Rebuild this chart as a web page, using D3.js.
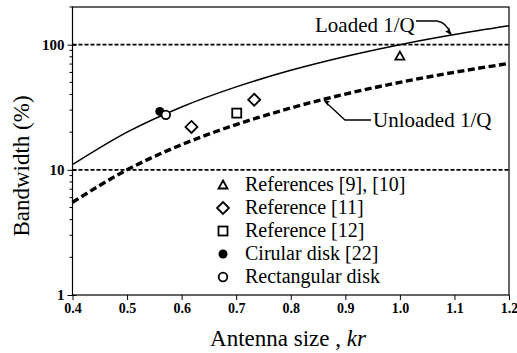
<!DOCTYPE html>
<html>
<head>
<meta charset="utf-8">
<script src="https://cdn.jsdelivr.net/npm/d3@7"></script>
</head>
<body style="margin:0">
<script>
// curve samples (antenna size kr -> bandwidth %)
const krSamples = [0.4, 0.5, 0.6, 0.7, 0.8, 0.9, 1.0, 1.1, 1.2];
const loadedBW = [11.0, 20.0, 31.8, 46.0, 62.4, 80.5, 100, 120.5, 141.6];
const unloadedBW = [5.5, 10.0, 15.9, 23.0, 31.2, 40.3, 50.0, 60.2, 70.8];

// measured points
const refs910 = [[1.0, 81]];
const ref11 = [[0.618, 22.0], [0.733, 36.3]];
const ref12 = [[0.701, 28.4]];
const circDisk = [[0.56, 29.3]];
const rectDisk = [[0.571, 27.5]];

const xTicks = [0.4, 0.5, 0.6, 0.7, 0.8, 0.9, 1.0, 1.1, 1.2];
const yTicks = [1, 10, 100];
const refLines = [10, 100];

const legendItems = ['References [9], [10]', 'Reference [11]', 'Reference [12]', 'Cirular disk [22]', 'Rectangular disk'];
const legendShapes = ['triangle', 'diamond', 'square', 'filled', 'open'];

const FONT = 'Liberation Serif';

const width = 517, height = 353;
const margin = { top: 7, right: 8, bottom: 58, left: 72.5 };
const plotW = width - margin.left - margin.right;
const plotH = height - margin.top - margin.bottom;

const svg = d3.select('body').append('svg')
  .attr('width', width)
  .attr('height', height)
  .attr('font-family', FONT)
  .style('display', 'block');

const chart = svg.append('g')
  .attr('transform', `translate(${margin.left},${margin.top})`);

const x = d3.scaleLinear().domain([0.4, 1.2]).range([0, plotW]);
const y = d3.scaleLog().domain([1, 200]).range([plotH, 0]);

// axes
const xAxis = d3.axisBottom(x).tickValues(xTicks).tickFormat(d3.format('.1f')).tickSize(5).tickPadding(3);
const gx = chart.append('g').attr('transform', `translate(0,${plotH})`).call(xAxis);
gx.attr('font-family', FONT);
gx.select('.domain').remove();
gx.selectAll('line').attr('stroke', '#000');
gx.selectAll('text').attr('font-family', FONT).attr('font-size', 14).attr('font-weight', 'bold');

const yAxis = d3.axisLeft(y).tickValues(yTicks).tickFormat(d3.format('d')).tickSize(5).tickPadding(3);
const gy = chart.append('g').call(yAxis);
gy.attr('font-family', FONT);
gy.select('.domain').remove();
gy.selectAll('line').attr('stroke', '#000').attr('x2', 4).attr('x1', -5);
gy.selectAll('text').attr('font-family', FONT).attr('font-size', 15).attr('font-weight', 'bold');

// minor log ticks
const minor = [];
[1, 10, 100].forEach(dec => {
  for (let k = 2; k <= 9; k++) if (dec * k <= 200) minor.push(dec * k);
});
chart.append('g').selectAll('line').data(minor).enter().append('line')
  .attr('x1', -3).attr('x2', 0)
  .attr('y1', d => y(d)).attr('y2', d => y(d))
  .attr('stroke', '#000').attr('stroke-width', 1);

// frame
chart.append('rect')
  .attr('width', plotW).attr('height', plotH)
  .attr('fill', 'none').attr('stroke', '#000').attr('stroke-width', 1.2);

// horizontal dashed reference lines
chart.append('g').selectAll('line').data(refLines).enter().append('line')
  .attr('x1', 0).attr('x2', plotW)
  .attr('y1', d => y(d)).attr('y2', d => y(d))
  .attr('stroke', '#000').attr('stroke-width', 1.8)
  .attr('stroke-dasharray', '4,2');

// curves
const line = d3.line()
  .x((d, i) => x(krSamples[i]))
  .y(d => y(d))
  .curve(d3.curveMonotoneX);

chart.append('path').datum(loadedBW)
  .attr('d', line)
  .attr('fill', 'none').attr('stroke', '#000').attr('stroke-width', 1.5);

chart.append('path').datum(unloadedBW)
  .attr('d', line)
  .attr('fill', 'none').attr('stroke', '#000').attr('stroke-width', 3.4)
  .attr('stroke-dasharray', '7,3.5');

// markers
function drawMarker(g, shape, cx, cy) {
  if (shape === 'triangle') {
    g.append('path').attr('d', `M${cx},${cy - 4.5} L${cx + 4.5},${cy + 3.5} L${cx - 4.5},${cy + 3.5} Z`)
      .attr('fill', '#fff').attr('stroke', '#000').attr('stroke-width', 1.8);
  } else if (shape === 'diamond') {
    g.append('path').attr('d', `M${cx},${cy - 6} L${cx + 6},${cy} L${cx},${cy + 6} L${cx - 6},${cy} Z`)
      .attr('fill', '#fff').attr('stroke', '#000').attr('stroke-width', 1.8);
  } else if (shape === 'square') {
    g.append('rect').attr('x', cx - 4.5).attr('y', cy - 4.5).attr('width', 9).attr('height', 9)
      .attr('fill', '#fff').attr('stroke', '#000').attr('stroke-width', 1.8);
  } else if (shape === 'filled') {
    g.append('circle').attr('cx', cx).attr('cy', cy).attr('r', 4.5).attr('fill', '#000');
  } else {
    g.append('circle').attr('cx', cx).attr('cy', cy).attr('r', 4.3)
      .attr('fill', '#fff').attr('stroke', '#000').attr('stroke-width', 1.8);
  }
}

const pts = chart.append('g');
[[refs910, 'triangle'], [ref11, 'diamond'], [ref12, 'square'], [circDisk, 'filled'], [rectDisk, 'open']]
  .forEach(([data, shape]) => {
    data.forEach(d => drawMarker(pts, shape, x(d[0]), y(d[1])));
  });

// legend
const legend = svg.append('g').attr('transform', 'translate(223,185)');
legendItems.forEach((label, i) => {
  const ly = i * 23;
  drawMarker(legend, legendShapes[i], 0, ly);
  legend.append('text')
    .attr('x', 22).attr('y', ly + 6)
    .attr('font-family', FONT).attr('font-size', 20)
    .text(label);
});

// annotations
const ann = svg.append('g');
ann.append('text').attr('x', 315).attr('y', 32)
  .attr('font-family', FONT).attr('font-size', 21).text('Loaded 1/Q');
const lTip = [margin.left + x(1.094), margin.top + y(119)];
ann.append('path')
  .attr('d', `M416,21 L437,21 Q446,22 ${lTip[0]},${lTip[1] - 1}`)
  .attr('fill', 'none').attr('stroke', '#000').attr('stroke-width', 1.3);
ann.append('path')
  .attr('d', `M${lTip[0]},${lTip[1]} l-6,-4 l3,-1 l1,-3 Z`)
  .attr('fill', '#000');

ann.append('text').attr('x', 373).attr('y', 127)
  .attr('font-family', FONT).attr('font-size', 21).text('Unloaded 1/Q');
const uTip = [margin.left + x(0.859), margin.top + y(36.5)];
ann.append('path')
  .attr('d', `M371,120 L345,120 L${uTip[0] + 2},${uTip[1] + 2}`)
  .attr('fill', 'none').attr('stroke', '#000').attr('stroke-width', 1.3);
ann.append('path')
  .attr('d', `M${uTip[0]},${uTip[1]} l7,2 l-2,1.5 l0,3 Z`)
  .attr('fill', '#000');

// axis titles
const xt = svg.append('text')
  .attr('x', 288).attr('y', 346)
  .attr('font-family', FONT)
  .attr('text-anchor', 'middle').attr('font-size', 23);
xt.append('tspan').text('Antenna size , ');
xt.append('tspan').attr('font-style', 'italic').text('kr');

svg.append('text')
  .attr('transform', 'translate(29,166) rotate(-90)')
  .attr('font-family', FONT)
  .attr('text-anchor', 'middle').attr('font-size', 23)
  .text('Bandwidth (%)');
</script>
</body>
</html>
